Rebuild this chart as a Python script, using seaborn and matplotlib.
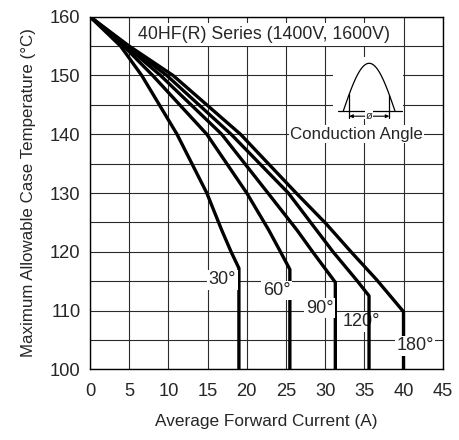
import numpy as np
import pandas as pd
import matplotlib
matplotlib.use("Agg")
import matplotlib.pyplot as plt
import seaborn as sns

# curves (current in A, case temperature in degC)
angles = ["30°", "60°", "90°", "120°", "180°"]
current_30 = [0, 3.9, 6.6, 11.1, 14.9, 16.8, 18.0, 19.0, 19.0]
temp_30 = [160, 155, 150, 140, 130, 123.7, 120, 117.2, 100]
current_60 = [0, 4.3, 8.0, 14.9, 20.0, 22.8, 24.3, 25.5, 25.5]
temp_60 = [160, 155, 150, 140, 130, 123.7, 120, 117.0, 100]
current_90 = [0, 4.6, 9.0, 16.8, 22.7, 26.4, 28.4, 31.3, 31.3]
temp_90 = [160, 155, 150, 140, 130, 123.7, 120, 114.8, 100]
current_120 = [0, 4.8, 9.8, 18.0, 25.3, 31.0, 34.0, 35.6, 35.6]
temp_120 = [160, 155, 150, 140, 130, 120, 115.2, 112.5, 100]
current_180 = [0, 5.0, 10.6, 19.2, 26.3, 30.1, 33.3, 36.6, 40.0, 40.0]
temp_180 = [160, 155, 150, 140, 130, 124.8, 120, 115.2, 109.8, 100]

x_ticks = [0, 5, 10, 15, 20, 25, 30, 35, 40, 45]
y_ticks = [100, 110, 120, 130, 140, 150, 160]
y_minor = [105, 115, 125, 135, 145, 155]

title = "40HF(R) Series (1400V, 1600V)"
xlabel = "Average Forward Current (A)"
ylabel = "Maximum Allowable Case Temperature (°C)"

# where the angle labels sit (data coords) and their draw order vs the lines
label_pos = {"30°": (16.9, 115.2, 4), "60°": (23.8, 113.4, 4), "90°": (29.3, 110.4, 4),
             "120°": (34.6, 108.1, 1.5), "180°": (41.5, 104.0, 4)}

currents = [current_30, current_60, current_90, current_120, current_180]
temps = [temp_30, temp_60, temp_90, temp_120, temp_180]
df = pd.concat([pd.DataFrame({"angle": a, "current": c, "temp": t})
                for a, c, t in zip(angles, currents, temps)], ignore_index=True)

sns.set_style("white")
plt.rcParams["font.family"] = ["Liberation Sans", "DejaVu Sans"]

W, H = 460, 440


def px_rect(x0, y0, x1, y1):
    # pixel box (top-left origin) -> figure fraction rect
    return [x0 / W, 1 - y1 / H, (x1 - x0) / W, (y1 - y0) / H]


fig = plt.figure(figsize=(W / 100, H / 100), dpi=100)
ax = fig.add_axes(px_rect(90, 16.7, 442.7, 369.3))

sns.lineplot(data=df, x="current", y="temp", units="angle", estimator=None,
             sort=False, color="black", lw=2.4, ax=ax, legend=False, zorder=2)

ax.set_xlim(0, 45)
ax.set_ylim(100, 160)
ax.set_xticks(x_ticks)
ax.set_yticks(y_ticks)
ax.set_yticks(y_minor, minor=True)
ax.grid(True, which="both", color="#2b2b2b", lw=0.8, zorder=0)
ax.set_axisbelow(True)
ax.tick_params(which="both", length=0, labelsize=13.2)
ax.tick_params(axis="x", pad=9.7)
ax.tick_params(axis="y", pad=7)
for s in ax.spines.values():
    s.set_color("black")
    s.set_linewidth(1.0)

ax.set_xlabel(xlabel, fontsize=12.4, labelpad=10.5)
ax.set_ylabel(ylabel, fontsize=12.2, labelpad=10)

box = dict(facecolor="white", edgecolor="none", pad=1.0)
for name, (lx, ly, z) in label_pos.items():
    ax.text(lx, ly, name, fontsize=13, ha="center", va="center", bbox=box, zorder=z)

ax.text(22.2, 157.0, title, fontsize=12.8, ha="center", va="center",
        bbox=dict(facecolor="white", edgecolor="none", pad=2.0), zorder=4)
ax.text(34.0, 140.0, "Conduction Angle", fontsize=12.2, ha="center", va="center",
        bbox=dict(facecolor="white", edgecolor="none", pad=1.0), zorder=4)

# little half-sine sketch of the conduction angle
ins = fig.add_axes(px_rect(333, 57, 403, 119))
ins.set_facecolor("white")
ins.set_xlim(333, 403)
ins.set_ylim(119, 57)
ins.set_xticks([])
ins.set_yticks([])
for s in ins.spines.values():
    s.set_visible(False)
wx = np.linspace(343.3, 395, 120)
ins.plot(wx, 111 - 47.7 * np.sin(np.pi * (wx - 343.3) / 51.7), color="black", lw=0.9)
ins.plot([338, 402], [111, 111], color="black", lw=0.9)
for vx in (349.3, 389.3):
    top = 111 - 47.7 * np.sin(np.pi * (vx - 343.3) / 51.7)
    ins.plot([vx, vx], [top, 118], color="black", lw=0.9)
ins.annotate("", xy=(349.3, 116.2), xytext=(389.3, 116.2),
             arrowprops=dict(arrowstyle="<|-|>", color="black", lw=0.8, mutation_scale=5,
                             shrinkA=0, shrinkB=0))
ins.text(369.3, 115.8, "ø", fontsize=8, ha="center", va="center",
         bbox=dict(facecolor="white", edgecolor="none", pad=0.5))

fig.savefig("out.png", dpi=100)
